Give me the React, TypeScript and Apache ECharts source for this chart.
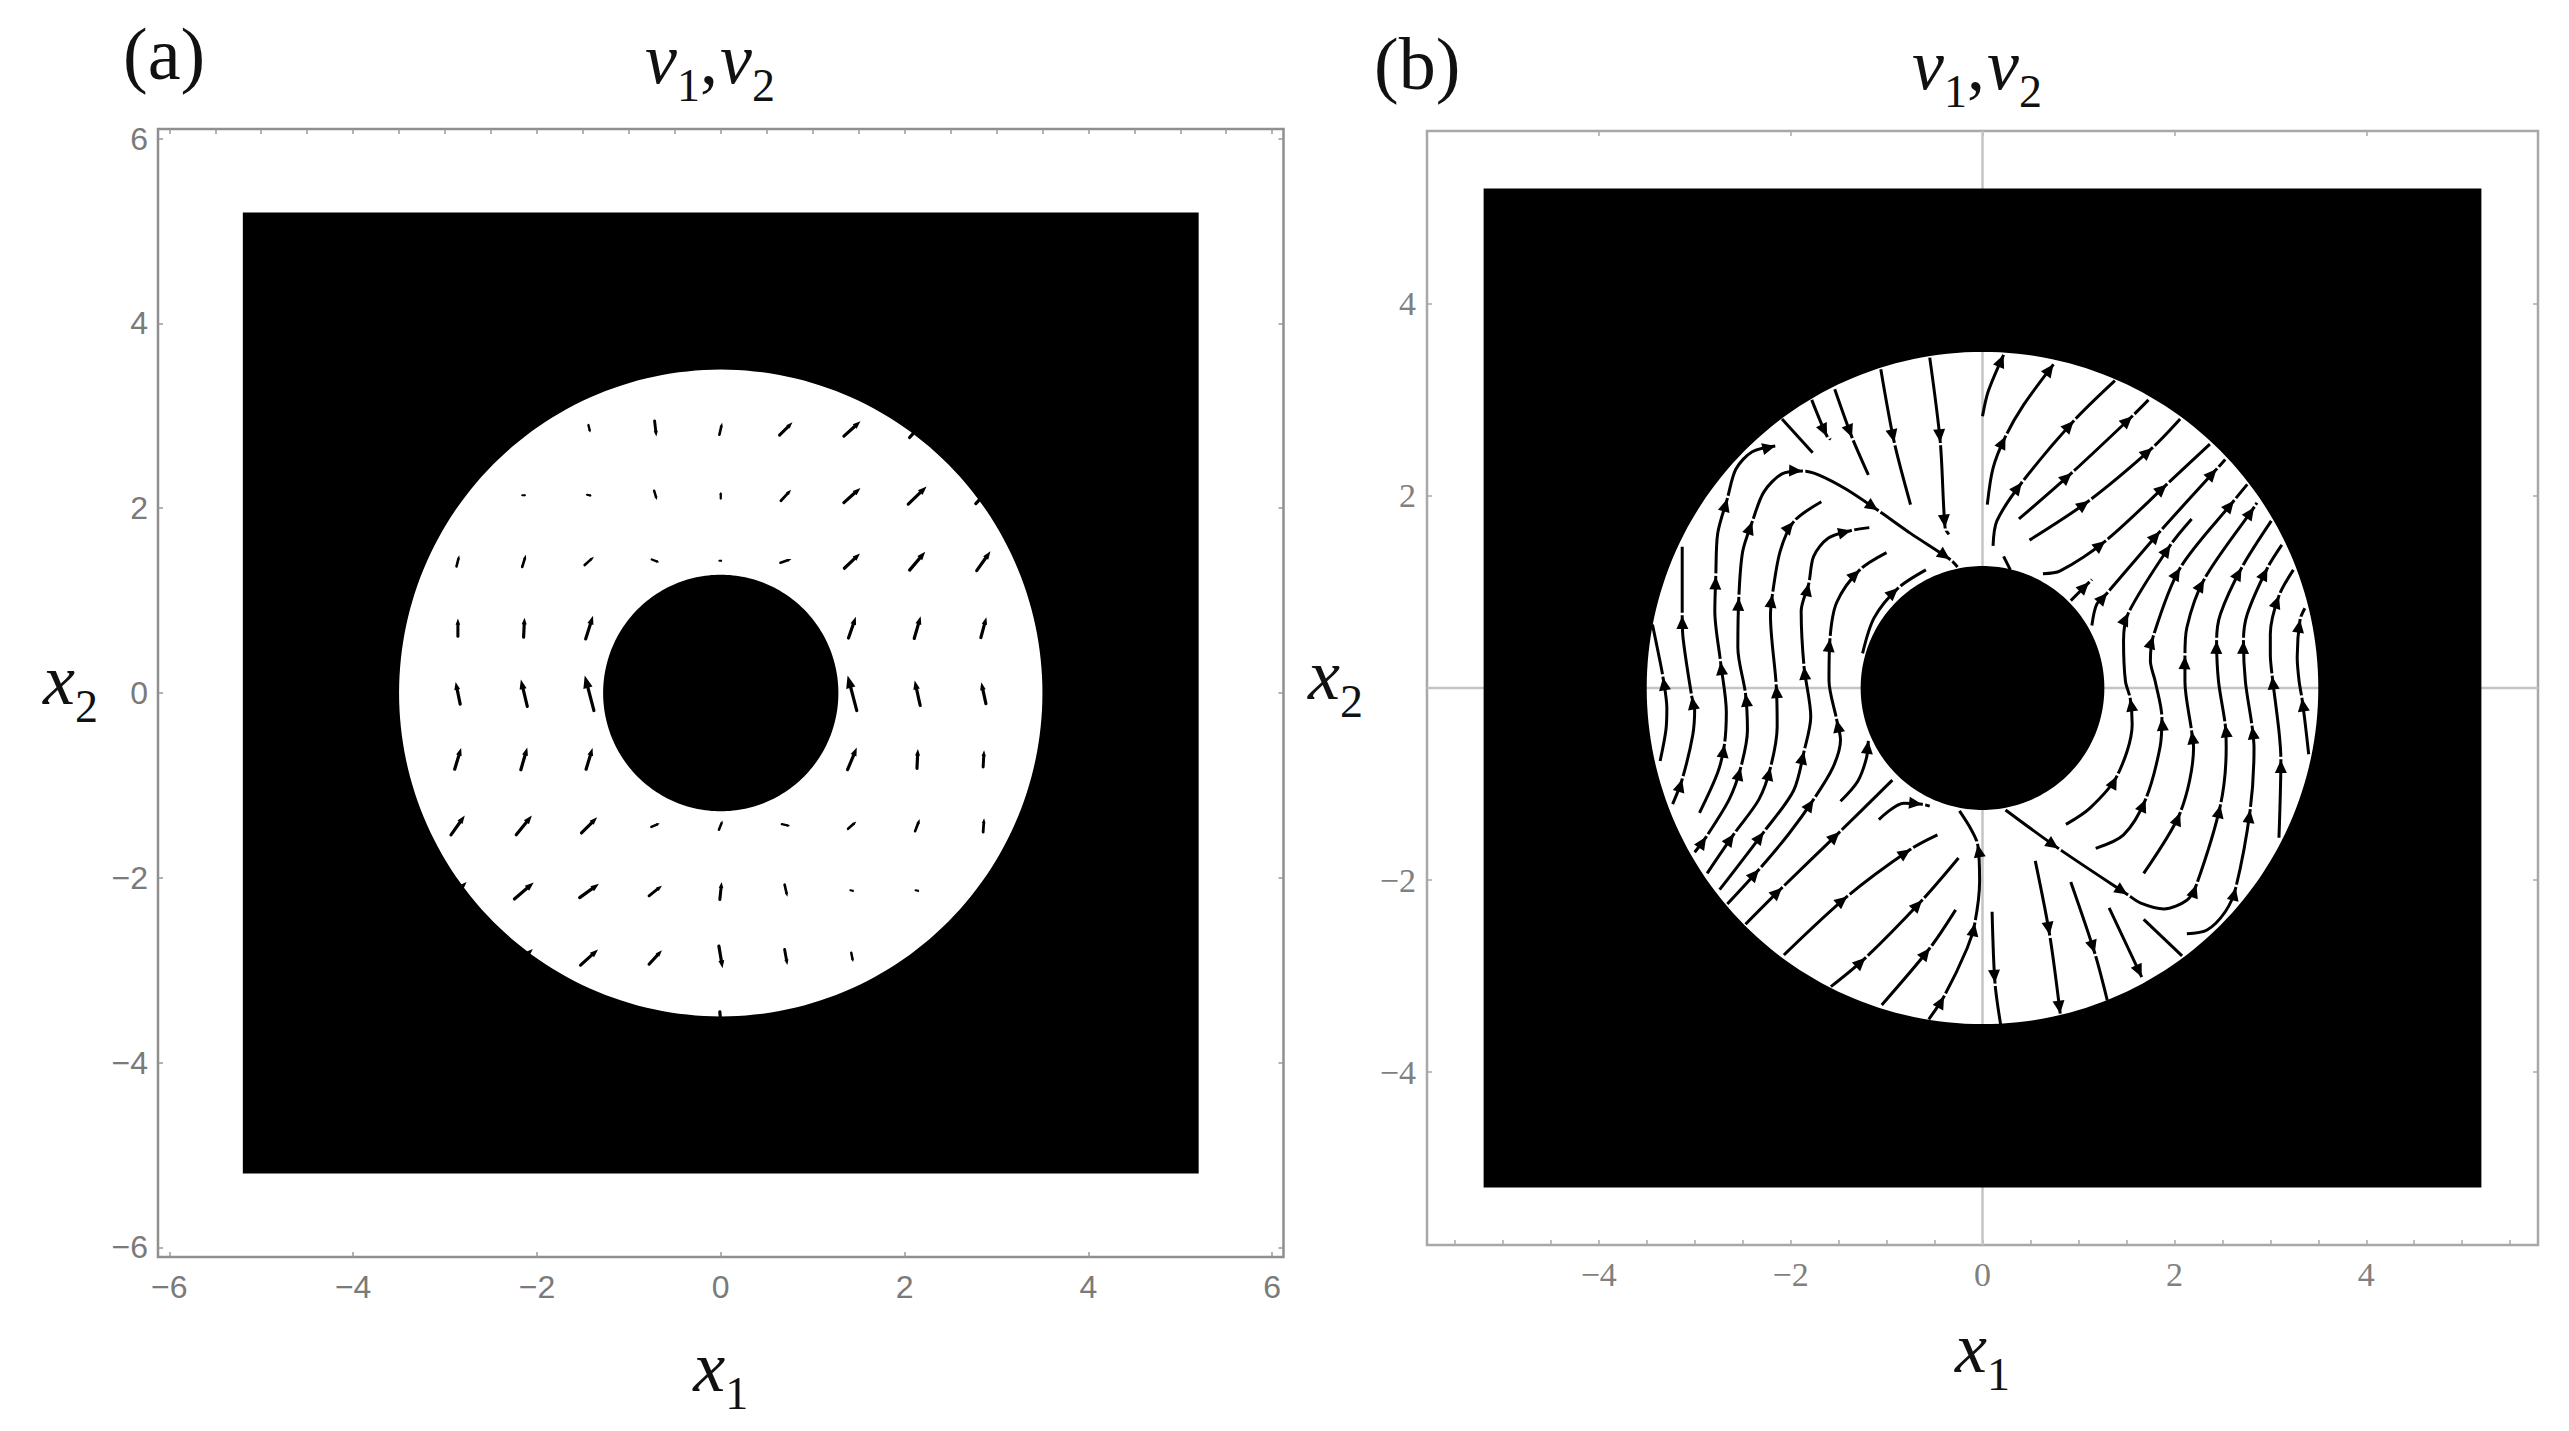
import React, { useEffect, useRef } from "react";
import * as echarts from "echarts";

const SERIF = "'Liberation Serif', 'Times New Roman', serif";
const SANS = "'Liberation Sans', Arial, sans-serif";

// Region shared by both panels
const squareHalf = 5.2;
const outerRadius = 3.5;
const innerRadiusA = 1.28;
const innerRadiusB = 1.27;

const majorA = [-6, -4, -2, 0, 2, 4, 6];
const halfStepsA = [-6, -5.5, -5, -4.5, -4, -3.5, -3, -2.5, -2, -1.5, -1, -0.5, 0, 0.5, 1, 1.5, 2, 2.5, 3, 3.5, 4, 4.5, 5, 5.5, 6];
const xLabelsB = [-4, -2, 0, 2, 4];
const yLabelsB = [-4, -2, 2, 4];
const majorB = [-4, -2, 0, 2, 4];
const halfStepsB = [-5.5, -5, -4.5, -4, -3.5, -3, -2.5, -2, -1.5, -1, -0.5, 0, 0.5, 1, 1.5, 2, 2.5, 3, 3.5, 4, 4.5, 5, 5.5];

// Panel (a): [x1, x2, v1, v2], sized as drawn
const vectorsTop = [
  [-1.43, 2.86, 0.02, -0.08], [-0.71, 2.86, 0.02, -0.17], [0, 2.86, 0.03, 0.13], [0.71, 2.86, 0.14, 0.14], [1.43, 2.86, 0.18, 0.16], [2.14, 2.86, 0.17, 0.19],
  [-2.14, 2.14, 0.04, 0], [-1.43, 2.14, 0.05, -0.01], [-0.71, 2.14, 0.03, -0.1], [0, 2.14, 0, 0.07], [0.71, 2.14, 0.11, 0.12], [1.43, 2.14, 0.18, 0.16], [2.14, 2.14, 0.2, 0.19], [2.86, 2.14, 0.17, 0.18],
  [-2.86, 1.43, 0.03, 0.12], [-2.14, 1.43, 0.04, 0.13], [-1.43, 1.43, 0.1, 0.09], [-0.71, 1.43, 0.08, -0.03], [0, 1.43, 0.03, 0], [0.71, 1.43, 0.12, 0.04], [1.43, 1.43, 0.17, 0.16], [2.14, 1.43, 0.17, 0.2], [2.86, 1.43, 0.15, 0.21],
];
const vectorsMiddle = [
  [-2.86, 0.71, 0, 0.19], [-2.14, 0.71, 0.01, 0.21], [-1.43, 0.71, 0.08, 0.25], [1.43, 0.71, 0.08, 0.23], [2.14, 0.71, 0.07, 0.24], [2.86, 0.71, 0.06, 0.22],
  [-2.86, 0, -0.05, 0.24], [-2.14, 0, -0.07, 0.29], [-1.43, 0, -0.1, 0.38], [1.43, 0, -0.1, 0.38], [2.14, 0, -0.06, 0.27], [2.86, 0, -0.05, 0.23],
  [-2.86, -0.71, 0.07, 0.23], [-2.14, -0.71, 0.07, 0.24], [-1.43, -0.71, 0.07, 0.23], [1.43, -0.71, 0.1, 0.24], [2.14, -0.71, 0.01, 0.21], [2.86, -0.71, 0.01, 0.18],
];
const vectorsBottom = [
  [-2.86, -1.43, 0.15, 0.21], [-2.14, -1.43, 0.17, 0.21], [-1.43, -1.43, 0.17, 0.17], [-0.71, -1.43, 0.09, 0.04], [0, -1.43, 0.04, 0.1], [0.71, -1.43, 0.09, -0.02], [1.43, -1.43, 0.09, 0.08], [2.14, -1.43, 0.05, 0.13], [2.86, -1.43, 0.01, 0.15],
  [-2.86, -2.14, 0.19, 0.19], [-2.14, -2.14, 0.21, 0.18], [-1.43, -2.14, 0.21, 0.15], [-0.71, -2.14, 0.14, 0.11], [0, -2.14, 0.02, 0.19], [0.71, -2.14, 0.03, -0.13], [1.43, -2.14, 0.04, -0.01], [2.14, -2.14, 0.04, -0.01],
  [-2.14, -2.86, 0.19, 0.18], [-1.43, -2.86, 0.19, 0.17], [-0.71, -2.86, 0.14, 0.15], [0, -2.86, 0.04, -0.24], [0.71, -2.86, 0.03, -0.17], [1.43, -2.86, 0.02, -0.1],
  [0, -3.57, 0.02, -0.24],
];

// Panel (b): streamlines in flow order, [x1, x2] or [x1, x2, 1] where an arrowhead's tip sits
const streamsLeft = [
  [[-3.36, -0.76], [-3.3, -0.44], [-3.29, -0.21], [-3.33, 0.11, 1], [-3.38, 0.37], [-3.44, 0.66]],
  [[-3.23, -1.21], [-3.13, -0.95, 1], [-3.02, -0.49], [-3, -0.21], [-3.03, -0.09, 1], [-3.12, 0.51], [-3.13, 0.75, 1], [-3.13, 1.18], [-3.13, 1.47]],
  [[-2.95, -1.3], [-2.76, -0.88], [-2.69, -0.59, 1], [-2.67, -0.25], [-2.73, 0.27, 1], [-2.79, 0.8], [-2.78, 1.16, 1], [-2.76, 1.61], [-2.66, 1.97, 1], [-2.57, 2.28], [-2.4, 2.46], [-2.16, 2.52, 1]],
  [[-3, -1.71], [-2.88, -1.55, 1], [-2.64, -1.16], [-2.52, -0.83, 1], [-2.45, -0.44], [-2.47, -0.06, 1], [-2.55, 0.42], [-2.54, 0.94, 1], [-2.5, 1.42], [-2.4, 1.73, 1], [-2.28, 2.04], [-2.09, 2.23], [-1.88, 2.26, 1], [-1.71, 2.22], [-1.42, 2.07], [-1.09, 1.85, 1], [-0.75, 1.61], [-0.34, 1.34, 1], [-0.26, 1.26]],
  [[-2.87, -1.93], [-2.59, -1.52, 1], [-2.33, -1.16], [-2.21, -0.83, 1], [-2.14, -0.4], [-2.15, 0.03, 1], [-2.21, 0.75], [-2.19, 0.97, 1], [-2.11, 1.42], [-1.97, 1.73, 1], [-1.68, 1.94]],
  [[-2.74, -2.1], [-2.28, -1.5, 1], [-1.97, -1.07], [-1.86, -0.66, 1], [-1.79, -0.3], [-1.86, 0.22, 1], [-1.89, 0.8], [-1.81, 1.09, 1], [-1.76, 1.37], [-1.61, 1.56], [-1.37, 1.64, 1], [-1.18, 1.67]],
  [[-2.66, -2.25], [-2.33, -1.89, 1], [-2.02, -1.52], [-1.76, -1.16, 1], [-1.56, -0.83], [-1.48, -0.54], [-1.52, -0.33, 1], [-1.6, 0.08], [-1.59, 0.51, 1], [-1.52, 0.89], [-1.28, 1.23, 1], [-1, 1.41]],
  [[-1.25, 0.36], [-1.13, 0.73], [-0.88, 1.04, 1], [-0.59, 1.23]],
];
const streamsLowerLeft = [
  [[-2.47, -2.46], [-2.09, -2.08, 1], [-1.49, -1.5, 1], [-0.94, -0.96]],
  [[-1.48, -1.18], [-1.3, -0.97], [-1.21, -0.73], [-1.19, -0.55, 1]],
  [[-2.07, -2.78], [-1.41, -2.17, 1], [-0.75, -1.68, 1], [-0.47, -1.53]],
  [[-1.58, -3.11], [-1.22, -2.81, 1], [-0.63, -2.21, 1], [-0.25, -1.77]],
  [[-1.05, -3.3], [-0.55, -2.71, 1], [-0.28, -2.31]],
  [[-0.56, -3.45], [-0.4, -3.21, 1], [-0.16, -2.71], [-0.08, -2.45, 1], [-0.03, -2.01], [-0.05, -1.63, 1], [-0.12, -1.47], [-0.24, -1.28]],
  [[-1.08, -1.37], [-0.82, -1.2], [-0.63, -1.21, 1], [-0.55, -1.23]],
];
const streamsUpperRight = [
  [[0, 2.83], [0.06, 3.09], [0.22, 3.47, 1]],
  [[0.05, 1.91], [0.11, 2.29], [0.24, 2.62, 1], [0.43, 2.95], [0.74, 3.37, 1]],
  [[0.11, 1.48], [0.15, 1.74], [0.41, 2.14, 1], [0.95, 2.78, 1], [1.38, 3.2]],
  [[0.38, 1.76], [0.93, 2.24, 1], [1.56, 2.83, 1], [1.73, 3]],
  [[0.49, 1.54], [1.11, 1.95, 1], [1.77, 2.5, 1], [2.06, 2.8]],
  [[0.63, 1.19], [0.81, 1.22], [1.28, 1.53, 1], [1.92, 2.12, 1], [2.37, 2.54]],
  [[1.14, 0.65], [1.19, 0.87], [1.3, 0.99, 1], [1.85, 1.63, 1], [2.44, 2.28, 1], [2.53, 2.38]],
  [[0.92, 0.91], [1.11, 1.1, 1], [1.14, 1.13]],
  [[0.22, 1.37], [0.29, 1.23]],
];
const streamsRight = [
  [[0.87, -1.42], [1.12, -1.25], [1.4, -0.92, 1], [1.56, -0.38], [1.54, -0.11, 1], [1.49, 0.07], [1.47, 0.49], [1.52, 0.78, 1], [1.96, 1.49, 1], [2.18, 1.76]],
  [[1.18, -1.67], [1.47, -1.53], [1.7, -1.16, 1], [1.85, -0.62], [1.87, -0.31, 1], [1.8, 0.07], [1.75, 0.28], [1.78, 0.54, 1], [2.06, 1.25, 1], [2.62, 1.95, 1], [2.76, 2.12]],
  [[1.68, -1.93], [2.06, -1.3, 1], [2.2, -0.62], [2.18, -0.45, 1], [2.11, 0.07], [2.11, 0.33, 1], [2.13, 0.63], [2.31, 1.13, 1], [2.83, 1.88, 1], [2.86, 1.93]],
  [[0.24, -1.27], [0.79, -1.67, 1], [1.51, -2.15, 1], [1.65, -2.24], [1.89, -2.3], [2.13, -2.21], [2.23, -2.05, 1], [2.48, -1.22, 1], [2.54, -0.62], [2.53, -0.38, 1], [2.46, 0.07], [2.44, 0.49, 1], [2.48, 0.77], [2.7, 1.25, 1], [3.01, 1.74]],
  [[2.13, -2.56], [2.34, -2.52], [2.53, -2.33], [2.64, -2.08, 1], [2.79, -1.27, 1], [2.83, -0.62], [2.81, -0.4, 1], [2.74, 0.07], [2.72, 0.49, 1], [2.76, 0.77], [2.97, 1.25, 1], [3.12, 1.49]],
  [[3.09, -1.56], [3.11, -0.75, 1], [3.09, -0.45], [3.02, 0.12, 1], [3, 0.35], [3, 0.56], [3.09, 0.96, 1], [3.24, 1.23]],
  [[3.4, -0.69], [3.36, -0.34], [3.33, -0.11, 1], [3.3, 0.07], [3.28, 0.32], [3.31, 0.71, 1], [3.36, 0.83]],
];
const streamsDownTop = [
  [[-2.09, 2.8], [-1.77, 2.45]],
  [[-1.78, 3], [-1.62, 2.62, 1], [-1.58, 2.59]],
  [[-1.54, 3.11], [-1.36, 2.61, 1], [-1.19, 2.22]],
  [[-1.06, 3.32], [-0.92, 2.56, 1], [-0.75, 1.91]],
  [[-0.55, 3.44], [-0.44, 2.56, 1], [-0.39, 1.67, 1], [-0.35, 1.6]],
];
const streamsDownBottom = [
  [[0.1, -2.33], [0.13, -3.07, 1], [0.19, -3.51]],
  [[0.55, -1.8], [0.7, -2.57, 1], [0.81, -3.39, 1]],
  [[0.92, -2.02], [1.17, -2.76, 1], [1.3, -3.25]],
  [[1.32, -2.29], [1.66, -3.01, 1]],
  [[1.68, -2.41], [2.08, -2.79]],
];
const streamlines = [...streamsLeft, ...streamsLowerLeft, ...streamsUpperRight, ...streamsRight, ...streamsDownTop, ...streamsDownBottom];

const minusFormatter = (v: number) => String(v).replace("-", "\u2212");

const mathRich = (size: number, subSize: number) => ({
  i: { fontFamily: SERIF, fontStyle: "italic", fontWeight: "normal", fontSize: size, color: "#111", lineHeight: 90, padding: [0, 0, 26, 0] },
  n: { fontFamily: SERIF, fontWeight: "normal", fontSize: size, color: "#111", lineHeight: 90, padding: [0, 2, 26, 0] },
  s: { fontFamily: SERIF, fontWeight: "normal", fontSize: subSize, color: "#111", lineHeight: 90, padding: [26, 0, 0, 0] },
});

function maskSeries(xi: number, inner: number) {
  return {
    type: "custom",
    coordinateSystem: "cartesian2d",
    xAxisIndex: xi,
    yAxisIndex: xi,
    z: 10,
    silent: true,
    clip: false,
    data: [[squareHalf, outerRadius, inner]],
    renderItem: (_: any, api: any) => {
      const h = api.value(0), ro = api.value(1), ri = api.value(2);
      const pt = (x: number, y: number) => api.coord([x, y]);
      const ring = (r: number, clockwise: boolean) => {
        const pts: number[][] = [];
        const n = 240;
        for (let k = 0; k < n; k++) {
          const t = (2 * Math.PI * (clockwise ? n - k : k)) / n;
          pts.push(pt(r * Math.cos(t), r * Math.sin(t)));
        }
        return "M" + pts.map((p) => p[0].toFixed(2) + " " + p[1].toFixed(2)).join("L") + "Z";
      };
      const c = [pt(-h, h), pt(h, h), pt(h, -h), pt(-h, -h)];
      const rect = "M" + c.map((p) => p[0].toFixed(2) + " " + p[1].toFixed(2)).join("L") + "Z";
      return {
        type: "path",
        shape: { pathData: rect + ring(ro, false) + ring(ri, true) },
        style: { fill: "#000", stroke: null },
      };
    },
  };
}

function quiverSeries() {
  return {
    type: "custom",
    coordinateSystem: "cartesian2d",
    xAxisIndex: 0,
    yAxisIndex: 0,
    z: 3,
    silent: true,
    clip: false,
    data: [...vectorsTop, ...vectorsMiddle, ...vectorsBottom],
    renderItem: (_: any, api: any) => {
      const x = api.value(0), y = api.value(1), u = api.value(2), v = api.value(3);
      const a = api.coord([x - u / 2, y - v / 2]);
      const b = api.coord([x + u / 2, y + v / 2]);
      const dx = b[0] - a[0], dy = b[1] - a[1];
      const L = Math.max(Math.hypot(dx, dy), 0.001);
      const ux = dx / L, uy = dy / L;
      const hl = 0.35 * L, hw = Math.max(0.13 * L, 1.5);
      const neck = [b[0] - ux * hl, b[1] - uy * hl];
      return {
        type: "group",
        children: [
          { type: "line", shape: { x1: a[0], y1: a[1], x2: neck[0], y2: neck[1] }, style: { stroke: "#000", lineWidth: Math.min(3.2, 1.8 + L * 0.07), lineCap: "round" } },
          { type: "polygon", shape: { points: [b, [neck[0] - uy * hw, neck[1] + ux * hw], [neck[0] + uy * hw, neck[1] - ux * hw]] }, style: { fill: "#000" } },
        ],
      };
    },
  };
}

function headData() {
  const out: number[][] = [];
  streamlines.forEach((line: number[][]) => {
    line.forEach((p, i) => {
      if (p.length < 3) return;
      const prev = line[Math.max(i - 1, 0)];
      const next = line[Math.min(i + 1, line.length - 1)];
      out.push([p[0], p[1], next[0] - prev[0], next[1] - prev[1]]);
    });
  });
  return out;
}

function headSeries() {
  return {
    type: "custom",
    coordinateSystem: "cartesian2d",
    xAxisIndex: 2,
    yAxisIndex: 2,
    z: 3,
    silent: true,
    clip: false,
    data: headData(),
    renderItem: (_: any, api: any) => {
      const x = api.value(0), y = api.value(1), u = api.value(2), v = api.value(3);
      const tip = api.coord([x, y]);
      const far = api.coord([x + u, y + v]);
      const dx = far[0] - tip[0], dy = far[1] - tip[1];
      const L = Math.max(Math.hypot(dx, dy), 0.001);
      const ux = dx / L, uy = dy / L;
      const hl = 13, hw = 6;
      const neck = [tip[0] - ux * hl, tip[1] - uy * hl];
      return {
        type: "group",
        children: [
          { type: "line", shape: { x1: tip[0] + ux * 0.8, y1: tip[1] + uy * 0.8, x2: tip[0] + ux * 3.2, y2: tip[1] + uy * 3.2 }, style: { stroke: "#fff", lineWidth: 6 } },
          { type: "polygon", shape: { points: [tip, [neck[0] - uy * hw, neck[1] + ux * hw], [neck[0] + uy * hw, neck[1] - ux * hw]] }, style: { fill: "#000" } },
        ],
      };
    },
  };
}

function tickAxis(gridIndex: number, range: number, position: string, ticks: number[], tickColor: string, labels: number[] | null, labelFont: any, margin: number, nameCfg: any) {
  return {
    type: "value",
    gridIndex,
    position,
    min: -range,
    max: range,
    splitLine: { show: false },
    axisLine: { show: false, onZero: false },
    axisTick: { show: true, inside: true, length: 5, customValues: ticks, lineStyle: { color: tickColor, width: 1.5 } },
    axisLabel: labels
      ? { show: true, customValues: labels, margin, formatter: minusFormatter, ...labelFont }
      : { show: false },
    ...(nameCfg || {}),
  };
}

export default function App() {
  const ref = useRef<HTMLDivElement>(null);
  useEffect(() => {
    const chart = echarts.init(ref.current!, undefined, { renderer: "svg" });
    const fontA = { fontFamily: SANS, fontSize: 32, color: "#7a7a7a" };
    const fontB = { fontFamily: SERIF, fontSize: 34, color: "#808080" };
    const rich = mathRich(72, 46);
    const xNameA = { name: "{i|x}{s|1}", nameLocation: "middle", nameGap: 78, nameTextStyle: { rich } };
    const yNameA = { name: "{i|x}{s|2}", nameLocation: "middle", nameGap: 60, nameRotate: 0, nameTextStyle: { rich } };
    const xNameB = { name: "{i|x}{s|1}", nameLocation: "middle", nameGap: 71, nameTextStyle: { rich } };
    const yNameB = { name: "{i|x}{s|2}", nameLocation: "middle", nameGap: 64, nameRotate: 0, nameTextStyle: { rich } };
    const titleText = "{i|v}{s|1}{n|,}{i|v}{s|2}";
    chart.setOption({
      animation: false,
      backgroundColor: "#fff",
      title: [
        { text: "(a)", left: 118, top: 12, textStyle: { fontFamily: SERIF, fontWeight: "normal", fontSize: 74, color: "#111" } },
        { text: "(b)", left: 1369, top: 22, textStyle: { fontFamily: SERIF, fontWeight: "normal", fontSize: 74, color: "#111" } },
        { text: titleText, left: 640, top: 22, textStyle: { rich } },
        { text: titleText, left: 1907, top: 28, textStyle: { rich } },
      ],
      grid: [
        { left: 158, top: 129, width: 1125.5, height: 1128, show: true, borderColor: "#8f8f8f", borderWidth: 2.5, containLabel: false, outerBoundsMode: "none" },
        { left: 1427, top: 131, width: 1111, height: 1114, show: true, borderColor: "#a8a8a8", borderWidth: 2.5, containLabel: false, outerBoundsMode: "none" },
      ],
      xAxis: [
        tickAxis(0, 6.123, "bottom", majorA, "#999", majorA, fontA, 14, xNameA),
        tickAxis(0, 6.123, "top", halfStepsA, "#999", null, fontA, 0, null),
        tickAxis(1, 5.79, "bottom", halfStepsB, "#aaa", xLabelsB, fontB, 12, xNameB),
        tickAxis(1, 5.79, "top", majorB, "#aaa", null, fontB, 0, null),
      ],
      yAxis: [
        tickAxis(0, 6.104, "left", majorA, "#999", majorA, fontA, 10, yNameA),
        tickAxis(0, 6.104, "right", majorA, "#999", null, fontA, 0, null),
        tickAxis(1, 5.8, "left", majorB, "#aaa", yLabelsB, fontB, 11, yNameB),
        tickAxis(1, 5.8, "right", majorB, "#aaa", null, fontB, 0, null),
      ],
      series: [
        quiverSeries(),
        {
          type: "line", xAxisIndex: 2, yAxisIndex: 2, z: 1, silent: true, showSymbol: false, symbol: "none",
          data: [[-5.79, 0], [5.79, 0]], lineStyle: { color: "#c4c4c4", width: 2.5 },
        },
        {
          type: "line", xAxisIndex: 2, yAxisIndex: 2, z: 1, silent: true, showSymbol: false, symbol: "none",
          data: [[0, -5.8], [0, 5.8]], lineStyle: { color: "#c4c4c4", width: 2.5 },
        },
        ...streamlines.map((line: number[][]) => ({
          type: "line", xAxisIndex: 2, yAxisIndex: 2, z: 2, silent: true, showSymbol: false, symbol: "none", smooth: 0.3,
          data: line.map((p) => [p[0], p[1]]), lineStyle: { color: "#000", width: 3 },
        })),
        headSeries(),
        maskSeries(0, innerRadiusA),
        maskSeries(2, innerRadiusB),
      ],
    } as any);
    return () => chart.dispose();
  }, []);
  return <div ref={ref} style={{ position: "absolute", left: 0, top: 0, width: 2569, height: 1431 }} />;
}
